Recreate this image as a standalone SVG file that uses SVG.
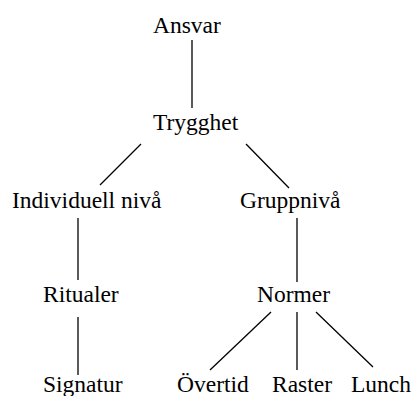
<svg xmlns="http://www.w3.org/2000/svg" width="414" height="396" viewBox="0 0 414 396">
<style>
text{font-family:"Liberation Serif","Times New Roman",serif;font-size:23.5px;fill:#000}
.c line{stroke:#000;stroke-width:1.3}
</style>
<rect width="414" height="396" fill="#fff"/>
<g class="c" id="connectors">
<line x1="192" y1="40" x2="192" y2="108"/>
<line x1="141" y1="144" x2="100" y2="185"/>
<line x1="246" y1="144" x2="289" y2="188"/>
<line x1="78" y1="218" x2="78" y2="280"/>
<line x1="297" y1="218" x2="297" y2="282"/>
<line x1="78" y1="317" x2="78" y2="375"/>
<line x1="271" y1="312" x2="210" y2="370"/>
<line x1="297" y1="312" x2="297" y2="370"/>
<line x1="316" y1="312" x2="373" y2="367"/>
</g>
<g id="ansvar"><text x="153" y="33">Ansvar</text></g>
<g id="trygghet"><text x="153" y="130">Trygghet</text></g>
<g id="individuell"><text x="12" y="208">Individuell nivå</text></g>
<g id="gruppniva"><text x="240" y="208">Gruppnivå</text></g>
<g id="ritualer"><text x="43" y="302">Ritualer</text></g>
<g id="normer"><text x="257" y="302">Normer</text></g>
<g id="signatur"><text x="43" y="392">Signatur</text></g>
<g id="overtid"><text x="177" y="392">Övertid</text></g>
<g id="raster"><text x="272" y="392">Raster</text></g>
<g id="lunch"><text x="351" y="392">Lunch</text></g>
</svg>
